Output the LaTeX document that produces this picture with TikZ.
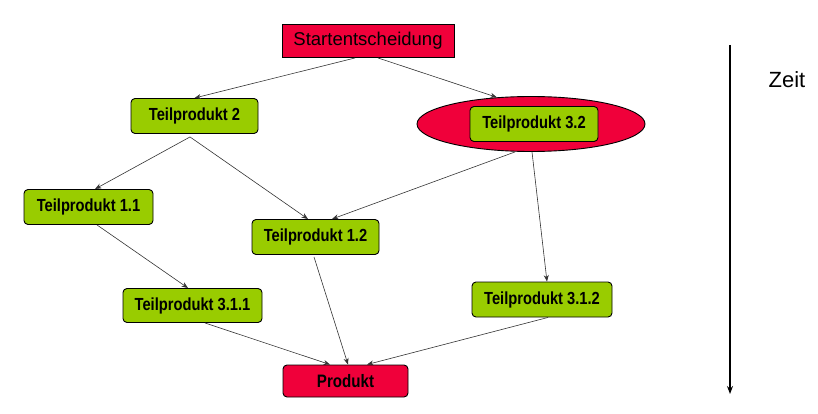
\documentclass[tikz,border=0pt]{standalone}
\usepackage{fontspec}
\setmainfont{Liberation Sans}
\newfontfamily\boldnarrow[FakeStretch=0.84]{Liberation Sans Bold}
\usetikzlibrary{shapes.geometric,arrows.meta}
\definecolor{boxred}{RGB}{240,0,58}
\definecolor{boxgreen}{RGB}{153,204,0}
\tikzset{
  part/.style={draw=black, line width=0.9pt, fill=boxgreen, rounded corners=4pt,
    inner sep=0pt, minimum height=35pt, font=\boldnarrow\fontsize{17.5}{19}\selectfont},
  redbox/.style={draw=black, line width=0.9pt, fill=boxred, inner sep=0pt, minimum height=33pt},
  conn/.style={draw=black!80, line width=0.6pt, -{Stealth[length=6.5pt,width=5pt]}}
}
\begin{document}
\begin{tikzpicture}[x=1pt,y=-1pt]
\useasboundingbox (0,0) rectangle (818,414);
\node[redbox, minimum width=172pt, font=\fontsize{18.5}{20}\selectfont] (sd) at (368,41) {Startentscheidung};
\node[draw=black, line width=0.9pt, fill=boxred, ellipse, minimum width=228pt, minimum height=55pt, inner sep=0pt] (ell) at (531,124) {};
\node[part, minimum width=128pt] (t32) at (534,124) {Teilprodukt 3.2};
\node[part, minimum width=127pt] (t2) at (194.5,116) {Teilprodukt 2};
\node[part, minimum width=129pt] (t11) at (88.5,207) {Teilprodukt 1.1};
\node[part, minimum width=127pt] (t12) at (315.5,237) {Teilprodukt 1.2};
\node[part, minimum width=139pt, minimum height=34pt] (t311) at (192.5,305.5) {Teilprodukt 3.1.1};
\node[part, minimum width=140pt] (t312) at (542,299.5) {Teilprodukt 3.1.2};
\node[redbox, rounded corners=4pt, minimum width=125pt, minimum height=32pt, font=\boldnarrow\fontsize{18}{20}\selectfont] (pr) at (345.5,381) {Produkt};
\coordinate (ta) at (730,45);
\coordinate (tb) at (730,394);
\node[font=\fontsize{22}{24}\selectfont] (zeit) at (787,80) {Zeit};

\draw[conn] ([xshift=-13pt]sd.south) -- (t2.north);
\draw[conn] ([xshift=10pt]sd.south) -- (ell.142);
\draw[conn] ([xshift=-4.5pt,yshift=-3pt]t2.south) -- ([xshift=6.5pt]t11.north);
\draw[conn] ([xshift=-4.5pt,yshift=-3pt]t2.south) -- ([xshift=-7.5pt]t12.north);
\draw[conn] ([xshift=-16pt]ell.south) -- ([xshift=16.5pt]t12.north);
\draw[conn] ([xshift=1pt]ell.south) -- ([xshift=5pt]t312.north);
\draw[conn] ([xshift=8.5pt]t11.south) -- ([xshift=-4.5pt]t311.north);
\draw[conn] ([xshift=-1.5pt,yshift=-2pt]t12.south) -- ([xshift=2.5pt]pr.north);
\draw[conn] ([xshift=12.5pt]t311.south) -- ([xshift=-15.5pt]pr.north);
\draw[conn] ([xshift=6pt]t312.south) -- ([xshift=21.5pt]pr.north);
\draw[line width=1.1pt, -{Stealth[length=8pt,width=6pt]}] (ta) -- (tb);
\end{tikzpicture}
\end{document}
